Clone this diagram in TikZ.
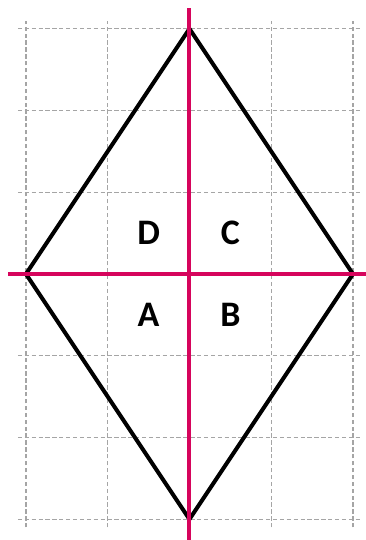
\documentclass[tikz,border=0pt]{standalone}
\usepackage{fontspec}
\setmainfont{Carlito}
\definecolor{axispink}{RGB}{214,4,92}
\definecolor{gridgray}{RGB}{165,165,165}
\begin{document}
\begin{tikzpicture}[
  gridline/.style={draw=gridgray, line width=0.5pt, dash pattern=on 1.5pt off 0.9pt},
  kiteedge/.style={draw=black, line width=1.4pt, line join=round, line cap=round},
  axisline/.style={draw=axispink, line width=1.4pt},
  quadlabel/.style={font=\fontsize{12.5}{14}\selectfont\bfseries, inner sep=0pt}
]
\useasboundingbox (-0.318,-3.254) rectangle (4.159,3.352);
% grid
\foreach \x in {0,1,2,3,4} \draw[gridline] (\x,-3.1) -- (\x,3.1);
\foreach \y in {-3,-2,-1,0,1,2,3} \draw[gridline] (-0.1,\y) -- (4.1,\y);
% rhombus vertices
\coordinate (T) at (2,3);
\coordinate (L) at (0,0);
\coordinate (R) at (4,0);
\coordinate (Bt) at (2,-3);
\draw[kiteedge] (T) -- (R) -- (Bt) -- (L) -- cycle;
% axes
\coordinate (vtop) at (2,3.25);
\coordinate (vbot) at (2,-3.3);
\coordinate (hleft) at (-0.22,0);
\coordinate (hright) at (4.2,0);
\draw[axisline] (vtop) -- (vbot);
\draw[axisline] (hleft) -- (hright);
% labels
\node[quadlabel] (D) at (1.5,0.5) {D};
\node[quadlabel] (C) at (2.5,0.5) {C};
\node[quadlabel] (A) at (1.5,-0.5) {A};
\node[quadlabel] (B) at (2.5,-0.5) {B};
\end{tikzpicture}
\end{document}
